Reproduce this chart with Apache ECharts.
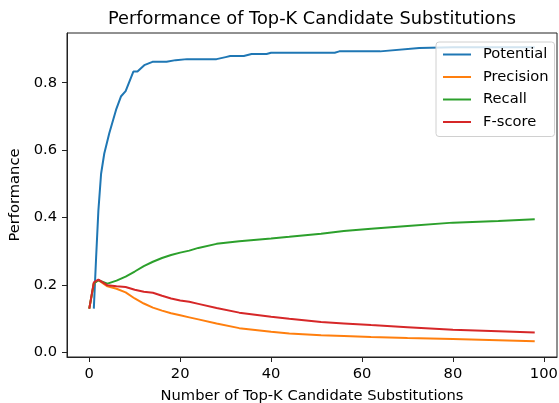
<!DOCTYPE html>
<html>
<head>
<meta charset="utf-8">
<script src="https://cdn.jsdelivr.net/npm/echarts@6/dist/echarts.min.js"></script>
<style>
  html, body { margin: 0; padding: 0; background: #fff; }
  #chart { width: 559px; height: 403px; }
</style>
</head>
<body>
<div id="chart"></div>
<script>
// 读图得到的数据
var xTicks = [0, 20, 40, 60, 80, 100];
var yTicks = [0, 0.2, 0.4, 0.6, 0.8];

// Potential 从 k=1 开始
var potentialK = [1, 1.5, 2, 2.6, 3.3, 4.4, 5.9, 7, 8, 9.7, 10.6, 12.1, 13.9, 15, 17, 19, 21.5, 28, 30, 31, 34, 35.7, 39, 40, 54, 55, 64, 72.6, 80, 98];
var potential = [0.130, 0.28, 0.42, 0.53, 0.59, 0.65, 0.72, 0.76, 0.775, 0.833, 0.833, 0.852, 0.862, 0.862, 0.862, 0.867, 0.870, 0.870, 0.876, 0.879, 0.879, 0.885, 0.885, 0.889, 0.889, 0.893, 0.893, 0.903, 0.905, 0.905];

var kValues = [0, 1, 2, 4, 6, 8, 10, 12, 14, 16, 18, 20, 22, 24, 28, 33, 40, 44, 51, 56, 62, 70, 80, 90, 98];
var precision = [0.130, 0.205, 0.214, 0.196, 0.189, 0.178, 0.160, 0.145, 0.133, 0.124, 0.116, 0.110, 0.104, 0.098, 0.086, 0.072, 0.061, 0.056, 0.051, 0.049, 0.046, 0.043, 0.040, 0.036, 0.033];
var recall = [0.130, 0.205, 0.214, 0.204, 0.213, 0.225, 0.240, 0.256, 0.269, 0.280, 0.289, 0.296, 0.302, 0.310, 0.322, 0.330, 0.338, 0.343, 0.352, 0.360, 0.367, 0.375, 0.385, 0.390, 0.395];
var fscore = [0.130, 0.208, 0.216, 0.199, 0.196, 0.194, 0.186, 0.180, 0.177, 0.168, 0.160, 0.154, 0.150, 0.144, 0.132, 0.118, 0.106, 0.100, 0.090, 0.086, 0.081, 0.075, 0.067, 0.063, 0.059];

function pairs(xs, ys) {
  return xs.map(function (x, i) { return [x, ys[i]]; });
}

var font = "DejaVu Sans";
var chart = echarts.init(document.getElementById("chart"));

function lineSeries(name, color, data) {
  return {
    name: name,
    type: "line",
    data: data,
    symbol: "none",
    smooth: false,
    lineStyle: { color: color, width: 2 },
    itemStyle: { color: color }
  };
}

chart.setOption({
  animation: false,
  textStyle: { fontFamily: font },
  title: {
    text: "Performance of Top-K Candidate Substitutions",
    left: 307,
    top: 5,
    textAlign: "center",
    textStyle: { fontFamily: font, fontSize: 17.8, fontWeight: "normal", color: "#000" }
  },
  grid: {
    left: 67,
    right: 2,
    top: 33,
    bottom: 46,
    outerBoundsMode: "none",
    containLabel: false,
    show: true,
    borderColor: "#222",
    borderWidth: 1
  },
  legend: {
    orient: "vertical",
    left: 436,
    top: 42,
    width: 119,
    padding: [5, 6, 7, 7],
    itemGap: 7.5,
    itemWidth: 28,
    itemHeight: 2,
    icon: "rect",
    backgroundColor: "rgba(255,255,255,0.8)",
    borderColor: "#d0d0d0",
    borderWidth: 1,
    borderRadius: 3,
    textStyle: { fontFamily: font, fontSize: 14.7, color: "#000", padding: [0, 0, 0, 7] },
    data: ["Potential", "Precision", "Recall", "F-score"]
  },
  xAxis: {
    type: "value",
    min: -4.9,
    max: 102.9,
    name: "Number of Top-K Candidate Substitutions",
    nameLocation: "middle",
    nameGap: 32,
    nameTextStyle: { fontFamily: font, fontSize: 14.7, color: "#000" },
    axisLine: { show: true, onZero: false, lineStyle: { color: "#222", width: 1 } },
    axisTick: { show: true, customValues: xTicks, length: 5, lineStyle: { color: "#222" } },
    axisLabel: { customValues: xTicks, margin: 10, fontFamily: font, fontSize: 14.7, color: "#000" },
    splitLine: { show: false }
  },
  yAxis: {
    type: "value",
    min: -0.0136,
    max: 0.9475,
    name: "Performance",
    nameLocation: "middle",
    nameGap: 42,
    nameTextStyle: { fontFamily: font, fontSize: 14.7, color: "#000" },
    axisLine: { show: true, onZero: false, lineStyle: { color: "#222", width: 1 } },
    axisTick: { show: true, customValues: yTicks, length: 5, lineStyle: { color: "#222" } },
    axisLabel: {
      customValues: yTicks,
      margin: 10,
      fontFamily: font,
      fontSize: 14.7,
      color: "#000",
      formatter: function (v) { return v.toFixed(1); }
    },
    splitLine: { show: false }
  },
  series: [
    lineSeries("Potential", "#1f77b4", pairs(potentialK, potential)),
    lineSeries("Precision", "#ff7f0e", pairs(kValues, precision)),
    lineSeries("Recall", "#2ca02c", pairs(kValues, recall)),
    lineSeries("F-score", "#d62728", pairs(kValues, fscore))
  ]
});
</script>
</body>
</html>
